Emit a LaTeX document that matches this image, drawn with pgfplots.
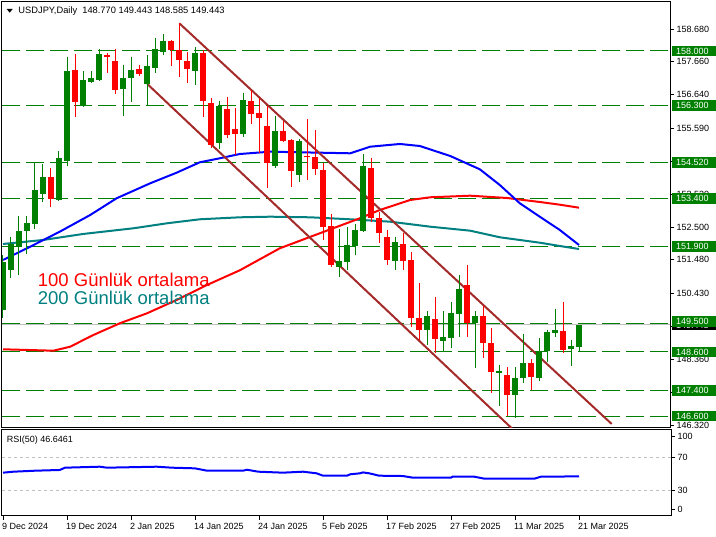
\documentclass[border=0pt]{standalone}
\usepackage{fontspec}
\setmainfont{Liberation Sans}
\usepackage{pgfplots}
\usepackage{pgfplotstable}
\pgfplotsset{compat=1.18}

\definecolor{mtgreen}{RGB}{0,128,0}
\definecolor{mtred}{RGB}{255,0,0}
\definecolor{mtblue}{RGB}{0,0,255}
\definecolor{mtteal}{RGB}{0,128,128}
\definecolor{chan}{RGB}{165,42,42}
\definecolor{bidgray}{RGB}{192,192,192}

\newcommand\lbl{\fontsize{9}{10}\selectfont}

% daily bars, index 0 = 9 Dec 2024
\pgfplotstableread{
i o h l c
0 149.911 151.630 149.662 151.410
1 151.161 152.182 150.911 151.973
2 151.888 152.847 151.004 152.379
3 152.388 152.847 151.660 152.619
4 152.597 154.493 152.432 153.659
5 153.543 154.471 153.294 154.065
6 154.065 154.346 153.137 153.387
7 153.347 154.877 153.325 154.658
8 154.574 157.822 154.409 157.385
9 157.407 157.906 155.939 156.417
10 156.282 157.385 156.250 157.094
11 157.041 157.385 156.991 157.157
12 157.094 158.053 157.060 157.906
13 157.884 157.947 157.322 157.822
14 157.688 158.053 156.648 156.782
15 156.823 157.553 155.970 157.157
16 157.157 157.822 156.417 157.407
17 157.438 157.563 157.219 157.282
18 156.969 157.875 156.282 157.532
19 157.469 158.415 157.304 158.062
20 157.969 158.540 157.875 158.312
21 158.312 158.340 157.532 158.031
22 158.031 158.865 157.197 157.719
23 157.688 157.978 156.991 157.438
24 157.375 158.134 156.938 157.938
25 157.938 158.031 155.939 156.448
26 156.376 156.523 154.970 155.064
27 155.136 156.438 154.930 156.282
28 156.198 156.554 155.283 155.377
29 155.564 156.211 154.752 155.408
30 155.408 156.679 155.324 156.470
31 156.439 156.782 155.720 156.033
32 156.054 156.523 154.805 155.898
33 155.658 156.282 153.712 154.493
34 154.418 155.970 154.346 155.502
35 155.502 155.823 155.158 155.199
36 155.221 155.242 153.762 154.262
37 154.127 155.242 153.900 155.189
38 154.730 155.876 153.971 154.699
39 154.680 155.533 154.127 154.315
40 154.284 154.493 152.098 152.513
41 152.535 152.900 151.245 151.317
42 151.264 152.432 150.933 151.451
43 151.420 152.513 151.161 151.941
44 151.910 152.588 151.629 152.410
45 152.388 154.774 152.347 154.409
46 154.337 154.649 152.669 152.775
47 152.775 152.981 152.013 152.325
48 152.200 152.410 151.317 151.473
49 151.451 152.200 151.161 152.044
50 151.973 152.307 151.161 151.451
51 151.473 151.723 149.390 149.652
52 149.652 150.745 148.975 149.287
53 149.287 149.880 148.818 149.724
54 149.621 150.327 148.559 149.006
55 148.953 149.880 148.609 149.059
56 149.047 150.152 148.734 149.827
57 149.796 151.004 149.078 150.567
58 150.692 151.317 149.078 149.496
59 149.496 149.890 148.091 149.724
60 149.724 150.046 148.403 148.871
61 148.871 149.340 147.310 147.984
62 147.953 148.194 146.923 148.006
63 147.872 148.141 146.600 147.266
64 147.266 148.122 146.529 147.788
65 147.778 149.162 147.622 148.247
66 148.247 148.381 147.413 147.810
67 147.797 149.028 147.703 148.640
68 148.640 149.287 148.297 149.224
69 149.203 149.943 149.078 149.287
70 149.256 150.171 148.578 148.662
71 148.684 148.975 148.163 148.787
72 148.770 149.443 148.585 149.443
}\candles

\pgfplotstableread{
i v
0 151.473
3.4 151.888
7.1 152.357
10.9 152.878
14.2 153.400
18.4 153.868
21.7 154.199
24.6 154.524
27.1 154.649
29.6 154.783
33.4 154.855
43.4 154.805
45.9 155.011
49.6 155.096
52.1 155.033
55.9 154.721
58.4 154.440
59.6 154.306
62.1 153.815
64.6 153.244
67.1 152.825
69.6 152.410
72 151.941
}\maBlue

\pgfplotstableread{
i v
0 148.684
6.3 148.640
8.4 148.765
11.3 149.131
14.6 149.496
18 149.808
21.7 150.224
25.5 150.692
29.6 151.151
34.6 151.838
39.6 152.307
44.6 152.775
47.1 153.034
50.9 153.347
53.4 153.431
58.4 153.481
63 153.409
67.1 153.284
69.6 153.200
72 153.106
}\maRed

\pgfplotstableread{
i v
0 151.973
5 152.097
10 152.285
16.3 152.463
20.5 152.619
24.6 152.744
29.6 152.806
33.4 152.825
38.4 152.806
43.4 152.744
48.4 152.669
53.4 152.513
58.4 152.388
62.1 152.182
67.1 152.013
69.6 151.910
72 151.816
}\maTeal

\pgfplotstableread{
i v
0 51.2
1.3 52.4
4 53.6
7.1 54.5
7.75 57.3
12.1 58.5
13 57.3
19.2 58.5
21.1 57.3
24 56.5
25.5 53.6
30 53.6
30.5 54.8
31.9 52.4
35 51.2
37.5 52.4
39.2 50.4
40 47.5
43 47.5
43.4 49.2
44.6 50.4
45 51.5
45.8 50.4
47 47.5
50 47.1
51.2 45.1
56 45.1
56.2 46.3
58.9 46.3
60.2 43.8
66.4 43.8
67.25 46.3
72 46.65
}\rsi

\tikzset{
  level/.style={mtgreen, line width=1pt, dash pattern=on 18pt off 6pt},
  pricebox/.style={anchor=west, fill=mtgreen, text=white, font=\lbl,
    inner xsep=4.5pt, inner ysep=0pt, minimum height=10.5pt,
    text width=40pt, align=left},
}
\pgfplotsset{
  candle/.style 2 args={draw=none, mark=none, forget plot,
    error bars/.cd, y dir=both, y explicit, error mark=none,
    error bar style={draw=#1, line width=#2}},
}

\begin{document}
\begin{tikzpicture}
\path[fill=white, use as bounding box] (0,0) rectangle (716pt,-537pt);

\begin{axis}[
  at={(2pt,-2pt)}, anchor=north west,
  width=668pt, height=426pt, scale only axis,
  xmin=-0.125, xmax=83.375,
  ymin=146.226, ymax=159.530,
  clip mode=individual,
  axis line style={black, line width=1pt},
  xtick=\empty,
  ytick={146.320,147.340,148.360,149.400,150.430,151.480,152.500,153.530,154.560,155.590,156.640,157.660,158.680},
  ytick pos=right, yticklabel pos=right,
  tick align=outside, major tick length=4pt,
  tick style={black, line width=0.8pt},
  scaled y ticks=false,
  /pgf/number format/assume math mode=true,
  yticklabel style={font=\lbl, inner sep=0pt, xshift=2.5pt,
    /pgf/number format/fixed, /pgf/number format/fixed zerofill,
    /pgf/number format/precision=3, /pgf/number format/1000 sep={}},
]
% support / resistance levels
\addplot[level] coordinates {(-0.125,158.000) (83.375,158.000)};
\addplot[level] coordinates {(-0.125,156.300) (83.375,156.300)};
\addplot[level] coordinates {(-0.125,154.520) (83.375,154.520)};
\addplot[level] coordinates {(-0.125,153.400) (83.375,153.400)};
\addplot[level] coordinates {(-0.125,151.900) (83.375,151.900)};
\addplot[level] coordinates {(-0.125,149.500) (83.375,149.500)};
\addplot[level] coordinates {(-0.125,148.600) (83.375,148.600)};
\addplot[level] coordinates {(-0.125,147.400) (83.375,147.400)};
\addplot[level] coordinates {(-0.125,146.600) (83.375,146.600)};
% bid line
\addplot[bidgray, line width=1pt] coordinates {(-0.125,149.443) (83.375,149.443)};

% moving averages
\addplot[mtteal, line width=2pt] table[x=i, y=v] {\maTeal};
\addplot[mtred, line width=2pt] table[x=i, y=v] {\maRed};
\addplot[mtblue, line width=2pt] table[x=i, y=v] {\maBlue};

% channel
\addplot[chan, line width=2pt] coordinates {(22.04,158.865) (76.09,146.351)};
\addplot[chan, line width=2pt] coordinates {(18.04,156.969) (66,145.65)};

% candles: wicks
\addplot[candle={mtgreen}{1pt}]
  table[x=i, y expr={\thisrow{c}>=\thisrow{o} ? (\thisrow{h}+\thisrow{l})/2 : nan},
        y error expr={(\thisrow{h}-\thisrow{l})/2}] {\candles};
\addplot[candle={mtred}{1pt}]
  table[x=i, y expr={\thisrow{c}<\thisrow{o} ? (\thisrow{h}+\thisrow{l})/2 : nan},
        y error expr={(\thisrow{h}-\thisrow{l})/2}] {\candles};
% candles: bodies
\addplot[candle={mtgreen}{5.3pt}]
  table[x=i, y expr={\thisrow{c}>=\thisrow{o} ? (\thisrow{o}+\thisrow{c})/2 : nan},
        y error expr={max(abs(\thisrow{c}-\thisrow{o})/2,0.016)}] {\candles};
\addplot[candle={mtred}{5.3pt}]
  table[x=i, y expr={\thisrow{c}<\thisrow{o} ? (\thisrow{o}+\thisrow{c})/2 : nan},
        y error expr={max(abs(\thisrow{c}-\thisrow{o})/2,0.016)}] {\candles};

\coordinate (bid) at (axis cs:83.375,149.443);
\coordinate (b1) at (axis cs:83.375,158.000);
\coordinate (b2) at (axis cs:83.375,156.300);
\coordinate (b3) at (axis cs:83.375,154.520);
\coordinate (b4) at (axis cs:83.375,153.400);
\coordinate (b5) at (axis cs:83.375,151.900);
\coordinate (b6) at (axis cs:83.375,149.500);
\coordinate (b7) at (axis cs:83.375,148.600);
\coordinate (b8) at (axis cs:83.375,147.400);
\coordinate (b9) at (axis cs:83.375,146.600);
\end{axis}

% price boxes on the right scale
\node[pricebox, fill=black] at ([xshift=1.5pt]bid) {149.443};
\node[pricebox] at ([xshift=1.5pt]b1) {158.000};
\node[pricebox] at ([xshift=1.5pt]b2) {156.300};
\node[pricebox] at ([xshift=1.5pt]b3) {154.520};
\node[pricebox] at ([xshift=1.5pt]b4) {153.400};
\node[pricebox] at ([xshift=1.5pt]b5) {151.900};
\node[pricebox] at ([xshift=1.5pt,yshift=1.5pt]b6) {149.500};
\node[pricebox] at ([xshift=1.5pt]b7) {148.600};
\node[pricebox] at ([xshift=1.5pt]b8) {147.400};
\node[pricebox] at ([xshift=1.5pt]b9) {146.600};

% header and text labels
\fill (6.7pt,-9pt) -- (12.7pt,-9pt) -- (9.7pt,-12.7pt) -- cycle;
\node[anchor=base west, font=\fontsize{9.3}{10}\selectfont, inner sep=0pt] at (18.3pt,-14pt)
  {USDJPY,Daily\ \ 148.770 149.443 148.585 149.443};
\node[anchor=base west, inner sep=0pt, text=mtred, font=\fontsize{18.5}{20}\selectfont]
  at (37.7pt,-286.7pt) {100 Günlük ortalama};
\node[anchor=base west, inner sep=0pt, text=mtteal, font=\fontsize{18.5}{20}\selectfont]
  at (37.7pt,-305pt) {200 Günlük ortalama};

% RSI panel
\begin{axis}[
  at={(2pt,-430pt)}, anchor=north west,
  width=669pt, height=86pt, scale only axis,
  xmin=-0.125, xmax=83.5,
  ymin=-1.8, ymax=103.4,
  clip mode=individual,
  axis line style={black, line width=1pt},
  xtick={0,8,...,72},
  xticklabels={9 Dec 2024,19 Dec 2024,2 Jan 2025,14 Jan 2025,24 Jan 2025,5 Feb 2025,17 Feb 2025,27 Feb 2025,11 Mar 2025,21 Mar 2025},
  xtick pos=left, ytick pos=right, yticklabel pos=right,
  tick align=outside, major tick length=4pt,
  tick style={black, line width=0.8pt},
  xticklabel style={font=\lbl, anchor=north west, inner sep=0pt, xshift=-1pt, yshift=-3pt},
  ytick={6.4,30,70,95.2}, yticklabels={0,30,70,100},
  yticklabel style={font=\lbl, inner sep=0pt, xshift=2.5pt},
]
\addplot[bidgray, line width=0.8pt, dash pattern=on 3pt off 3pt] coordinates {(-0.125,70) (83.5,70)};
\addplot[bidgray, line width=0.8pt, dash pattern=on 3pt off 3pt] coordinates {(-0.125,30) (83.5,30)};
\addplot[mtblue, line width=2pt] table[x=i, y=v] {\rsi};
\node[anchor=base west, font=\lbl, inner sep=0pt] at (rel axis cs:0,0) [xshift=4.7pt, yshift=73.3pt] {RSI(50) 46.6461};
\end{axis}
\end{tikzpicture}
\end{document}
